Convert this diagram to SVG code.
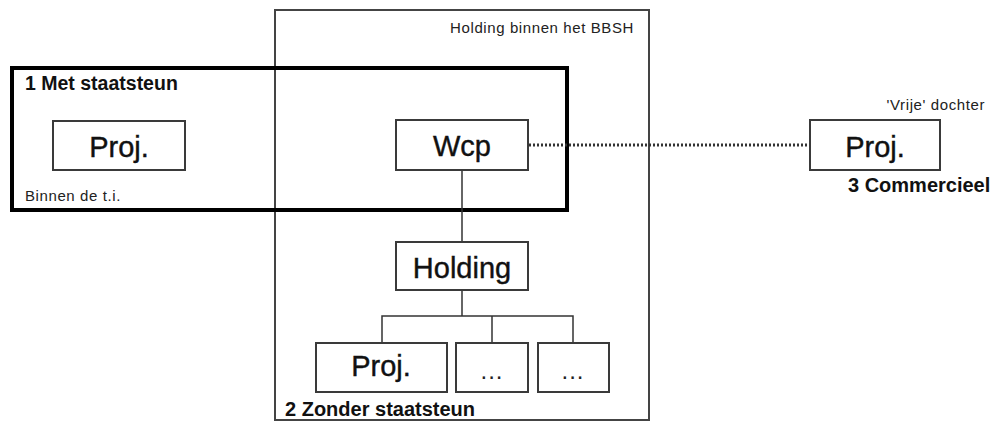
<svg xmlns="http://www.w3.org/2000/svg" width="994" height="423" viewBox="0 0 994 423">
<style>
.box{fill:#fff;stroke:#3a3a3a;stroke-width:2}
.lbl{font-family:"Liberation Sans",Arial,sans-serif;font-size:29px;fill:#111;text-anchor:middle;stroke:#111;stroke-width:0.4}
.dt{font-family:"Liberation Sans",Arial,sans-serif;font-size:24px;fill:#222;text-anchor:middle;letter-spacing:1px}
.sm{font-family:"Liberation Sans",Arial,sans-serif;font-size:15px;fill:#222;letter-spacing:0.6px}
.bd{font-family:"Liberation Sans",Arial,sans-serif;font-size:20px;font-weight:bold;fill:#111}
.ln{stroke:#333;stroke-width:1.5;fill:none}
</style>
<rect width="994" height="423" fill="#fff"/>
<g id="bbsh">
<rect x="275" y="10" width="374" height="410" fill="none" stroke="#444" stroke-width="2"/>
<text class="sm" x="634" y="33" text-anchor="end">Holding binnen het BBSH</text>
<text class="bd" x="285" y="416">2 Zonder staatsteun</text>
</g>
<g id="staatsteun">
<rect x="12" y="68" width="555" height="142" fill="none" stroke="#000" stroke-width="4"/>
<text class="bd" x="25" y="90" style="font-size:19.5px">1 Met staatsteun</text>
<text class="sm" x="25" y="201">Binnen de t.i.</text>
</g>
<g id="connectors">
<line class="ln" x1="462" y1="170" x2="462" y2="242"/>
<polyline class="ln" points="462,290 462,316"/>
<polyline class="ln" points="382,343 382,316 573,316 573,343"/>
<line class="ln" x1="492" y1="316" x2="492" y2="343"/>
<line x1="529" y1="145" x2="810" y2="145" stroke="#333" stroke-width="3" stroke-dasharray="2,2"/>
</g>
<g id="proj-left">
<rect class="box" x="53" y="121" width="132" height="49"/>
<text class="lbl" x="119" y="157">Proj.</text>
</g>
<g id="wcp">
<rect class="box" x="396" y="120" width="132" height="50"/>
<text class="lbl" x="462" y="156">Wcp</text>
</g>
<g id="holding">
<rect class="box" x="396" y="242" width="132" height="48"/>
<text class="lbl" x="462" y="278">Holding</text>
</g>
<g id="proj-mid">
<rect class="box" x="316" y="343" width="131" height="49"/>
<text class="lbl" x="381" y="376">Proj.</text>
</g>
<g id="dots1">
<rect class="box" x="456" y="343" width="72" height="49"/>
<text class="dt" x="492" y="379">...</text>
</g>
<g id="dots2">
<rect class="box" x="538" y="343" width="71" height="49"/>
<text class="dt" x="573" y="379">...</text>
</g>
<g id="proj-right">
<rect class="box" x="810" y="120" width="130" height="50"/>
<text class="lbl" x="875" y="157">Proj.</text>
<text class="sm" x="985" y="110" text-anchor="end">'Vrije' dochter</text>
<text class="bd" x="848" y="192">3 Commercieel</text>
</g>
</svg>
